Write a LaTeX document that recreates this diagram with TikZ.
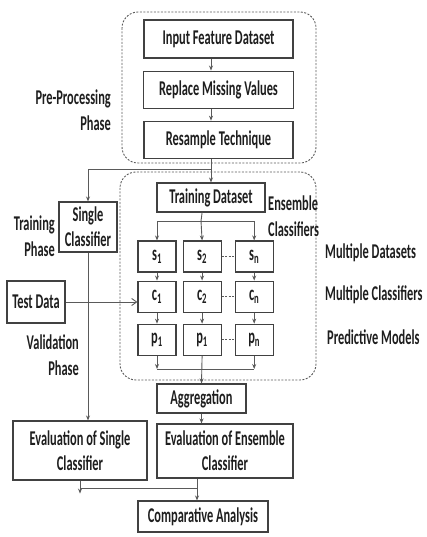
\documentclass[tikz,border=0pt]{standalone}
\usepackage{fontspec}
\setmainfont[FakeStretch=0.59]{Carlito}
\usepackage{tikz}
\usetikzlibrary{arrows.meta,positioning}
\definecolor{lineGray}{RGB}{90,90,90}
\definecolor{boxGray}{RGB}{65,65,65}
\definecolor{textDark}{RGB}{30,30,30}
\tikzset{
  stepbox/.style={
    rectangle, draw=boxGray, line width=1.1pt, fill=white, inner sep=0pt,
    align=center, text=textDark, font=\bfseries\fontsize{21}{25}\selectfont
  },
  gridbox/.style={stepbox, minimum width=38pt, minimum height=31pt},
  phaselabel/.style={inner sep=0pt, text=textDark,
    font=\bfseries\fontsize{21}{26}\selectfont},
  phasebox/.style={draw=lineGray, line width=0.9pt,
    dash pattern=on 2pt off 1.5pt, rounded corners=16pt},
  flowLine/.style={draw=lineGray, line width=0.9pt},
  flowArrow/.style={flowLine, -{Stealth[length=5pt,width=4pt]}},
  linkDash/.style={flowLine, dash pattern=on 2pt off 1.5pt}
}

\begin{document}
\begin{tikzpicture}[x=1pt, y=-1pt]
  \useasboundingbox (0,0) rectangle (427,537);
  \draw[phasebox] (122,12) rectangle (316,163);
  \draw[phasebox] (120,172) rectangle (316,380);

  \node[stepbox, minimum width=149pt, minimum height=38pt] (inp)
    at (218.5,39) {Input Feature Dataset};
  \node[stepbox, minimum width=150pt, minimum height=37pt,
        below=12pt of inp] (rmv) {Replace Missing Values};
  \node[stepbox, minimum width=149pt, minimum height=37pt,
        below=12pt of rmv] (rsm) {Resample Technique};

  \node[stepbox, minimum width=108pt, minimum height=29pt] (trd)
    at (211,197.5) {Training Dataset};
  \node[stepbox, minimum width=58pt, minimum height=50pt] (sgl)
    at (88,227) {Single\\Classifier};
  \node[stepbox, minimum width=58pt, minimum height=42pt] (tst)
    at (36,302) {Test Data};

  \node[gridbox] (s1) at (157,256.5) {s\textsubscript{1}};
  \node[gridbox, right=6pt of s1] (s2) {s\textsubscript{2}};
  \node[gridbox, right=13pt of s2] (sn) {s\textsubscript{n}};
  \node[gridbox, below=8pt of s1] (c1) {c\textsubscript{1}};
  \node[gridbox, below=8pt of s2] (c2) {c\textsubscript{2}};
  \node[gridbox, below=8pt of sn] (cn) {c\textsubscript{n}};
  \node[gridbox, below=11pt of c1] (p1) {p\textsubscript{1}};
  \node[gridbox, below=11pt of c2] (p2) {p\textsubscript{1}};
  \node[gridbox, below=11pt of cn] (pn) {p\textsubscript{n}};

  \node[stepbox, minimum width=89pt, minimum height=29pt] (agg)
    at (201.5,398.5) {Aggregation};
  \node[stepbox, minimum width=134pt, minimum height=59pt] (evs)
    at (80,450.5) {Evaluation of Single\\Classifier};
  \node[stepbox, minimum width=136pt, minimum height=54pt] (eve)
    at (225,451) {Evaluation of Ensemble\\Classifier};
  \node[stepbox, minimum width=130pt, minimum height=31pt] (cmp)
    at (203,516.5) {Comparative Analysis};

  \node[phaselabel, anchor=east, align=right] (prl) at (111,110)
    {Pre-Processing\\Phase};
  \node[phaselabel, anchor=east, align=right] (trl) at (55,236.5)
    {Training\\Phase};
  \node[phaselabel, anchor=east, align=right] (vll) at (79,355.5)
    {Validation\\Phase};
  \node[phaselabel, anchor=west, align=left] (ecl) at (268,216)
    {Ensemble\\Classifiers};
  \node[phaselabel, anchor=west] (mdl) at (325,253) {Multiple Datasets};
  \node[phaselabel, anchor=west] (mcl) at (325,295) {Multiple Classifiers};
  \node[phaselabel, anchor=west] (pml) at (327,337) {Predictive Models};

  \draw[flowArrow] (inp.south -| trd.north) -- (rmv.north -| trd.north);
  \draw[flowArrow] (rmv.south -| trd.north) -- (rsm.north -| trd.north);
  \draw[flowArrow] (rsm.south -| trd.north) -- (trd.north);
  \coordinate (split) at (211,169);
  \draw[flowArrow] (split) -| (sgl.north);

  \coordinate (tbus) at (201,221);
  \draw[flowLine] (trd.south -| s2.north) -- (tbus);
  \draw[flowArrow] (tbus) -| (s1.north);
  \draw[flowArrow] (tbus) -- (s2.north);
  \draw[flowArrow] (tbus) -| (sn.north);
  \foreach \k in {1,2,n} {
    \draw[flowArrow] (s\k.south) -- (c\k.north);
    \draw[flowArrow] (c\k.south) -- (p\k.north);
  }
  \draw[linkDash] (s2.east) -- (sn.west);
  \draw[linkDash] (c2.east) -- (cn.west);
  \draw[linkDash] (p2.east) -- (pn.west);

  \draw[flowLine, -{Straight Barb[length=5pt,width=7pt]}]
    (tst.east) -- (tst.east -| c1.west);

  \coordinate (pbus) at (201,369);
  \draw[flowArrow] (p1.south) -- (p1.south |- pbus);
  \draw[flowArrow] (pn.south) -- (pn.south |- pbus);
  \draw[flowLine] (p1.south |- pbus) -- (pn.south |- pbus);
  \draw[flowArrow] (p2.south) -- (agg.north);
  \draw[flowArrow] (agg.south) -- (agg.south |- eve.north);
  \draw[flowArrow] (sgl.south) -- (sgl.south |- evs.north);

  \coordinate (cbus) at (197,488);
  \draw[flowArrow] (evs.south) -- ++(0,13);
  \draw[flowLine] (evs.south |- cbus) -- (cbus);
  \draw[flowArrow] (eve.south -| cbus) -- (cmp.north -| cbus);
\end{tikzpicture}
\end{document}
